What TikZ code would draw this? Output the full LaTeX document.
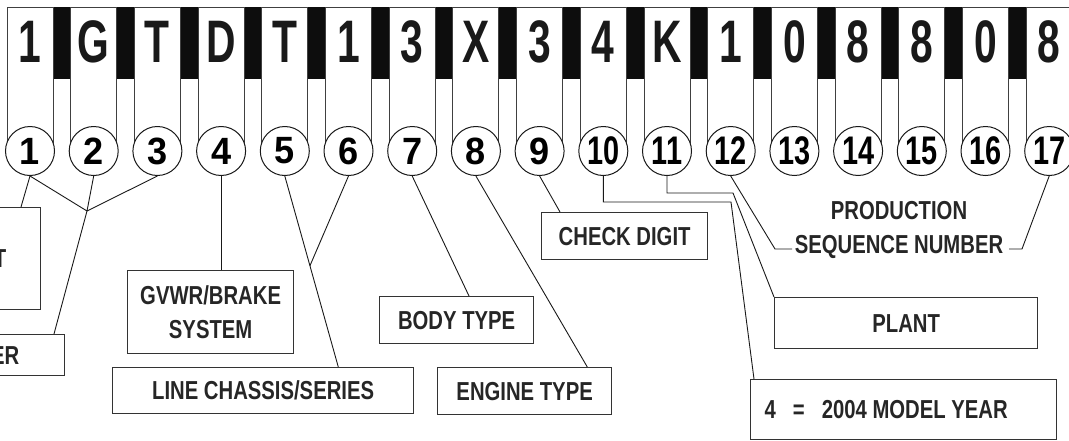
\documentclass[tikz,border=0pt]{standalone}
\usepackage{fontspec}
\setmainfont{Liberation Sans}
\newfontfamily\vinfont{Liberation Sans}[FakeStretch=0.68]
\newfontfamily\lblfont{Liberation Sans}[FakeStretch=0.78]
\newfontfamily\numfont{Liberation Sans}[FakeStretch=0.95]
\usepackage{graphicx}
\usepackage{tikz}
\usetikzlibrary{calc}

\tikzset{
  vcol/.style={fill=white, draw=black!75, line width=0.9pt},
  vinchar/.style={font=\vinfont\bfseries\fontsize{60}{60}\selectfont, text=black!90, inner sep=0pt},
  numcirc/.style={circle, draw=black!90, line width=1pt, fill=white, minimum size=49pt, inner sep=0pt, font=\numfont\bfseries\fontsize{38}{38}\selectfont},
  lbox/.style={draw=black!80, line width=1.3pt, inner sep=0pt, text=black!85, font=\lblfont\bfseries\fontsize{26}{34}\selectfont},
  lead/.style={draw=black!90, line width=0.9pt}
}

\begin{document}
\begin{tikzpicture}[x=1pt,y=-1pt]
  \useasboundingbox (0,0) rectangle (1069,440);
  \fill[black!95] (7,7) rectangle (1069,79);
  \foreach \ch [count=\i] in {1,G,T,D,T,1,3,X,3,4,K,1,0,8,8,0,8}{
    \pgfmathsetmacro{\cx}{30+(\i-1)*63.7}
    \draw[vcol] ({\cx-23},7) rectangle ({\cx+23},151);
    \node[vinchar] (ch\i) at (\cx,41.5) {\ch};
    \node[numcirc] (c\i) at (\cx,151) {\ifnum\i>9 \scalebox{0.8}[1.05]{\i}\else\i\fi};
  }

  \node[lbox, anchor=north east, minimum height=102pt, text width=60pt, align=flush right, inner xsep=34pt] (orig) at (41,207) {T};
  \node[lbox, anchor=north east, minimum height=41pt, text width=60pt, align=flush right, inner xsep=45pt] (mfr) at (65,334) {ER};
  \node[lbox, anchor=north west, minimum width=166pt, minimum height=83pt, align=center] (gvwr) at (127,270) {GVWR/BRAKE\\SYSTEM};
  \node[lbox, anchor=north west, minimum width=301pt, minimum height=46pt] (chassis) at (112,367) {LINE CHASSIS/SERIES};
  \node[lbox, anchor=north west, minimum width=154pt, minimum height=47pt] (body) at (379,296) {BODY TYPE};
  \node[lbox, anchor=north west, minimum width=174pt, minimum height=47pt] (engine) at (437,367) {ENGINE TYPE};
  \node[lbox, anchor=north west, minimum width=166pt, minimum height=47pt] (check) at (541,212) {CHECK DIGIT};
  \node[lbox, anchor=north west, minimum width=263pt, minimum height=51pt] (plant) at (774,297) {PLANT};
  \node[lbox, anchor=north west, minimum height=60pt, text width=278pt, align=flush left, inner xsep=14pt] (year) at (750,379) {4\hspace{17pt}=\hspace{17pt}2004 MODEL YEAR};
  \node[lbox, draw=none, align=center] (seq) at (899,230) {PRODUCTION\\SEQUENCE NUMBER};

  \coordinate (wmi) at (87,211);
  \coordinate (l5) at ($(chassis.north east)+(-76,0)$);
  \coordinate (k10) at (731,202);
  \coordinate (k11) at (733,193);
  \coordinate (k12) at (775,249);
  \coordinate (s12) at (792,249);
  \coordinate (k17) at (1022,249);
  \coordinate (s17) at (1009,249);

  \draw[lead] (c1.south) -- ($(orig.north east)+(-20,0)$);
  \draw[lead] (c1.south) -- (wmi) (c2.south) -- (wmi) (c3.south) -- (wmi);
  \draw[lead] (wmi) -- ($(mfr.north east)+(-11,0)$);
  \draw[lead] (c4.south) -- (c4.south |- gvwr.north);
  \draw[lead] (c5.south) -- (l5);
  \draw[lead] (c6.south) -- ($(c5.south)!0.47!(l5)$);
  \draw[lead] (c7.south) -- ($(body.north west)+(90,0)$);
  \draw[lead] (c8.south) -- ($(engine.north east)+(-25,0)$);
  \draw[lead] (c9.south) -- ($(check.north west)+(19,0)$);
  \draw[lead] (c10.south) |- (k10) -- ($(year.north west)+(4,0)$);
  \draw[lead] (c11.south) |- (k11) -- (plant.north west);
  \draw[lead] (c12.south) -- (k12) -- (s12);
  \draw[lead] (c17.south) -- (k17) -- (s17);
\end{tikzpicture}
\end{document}
